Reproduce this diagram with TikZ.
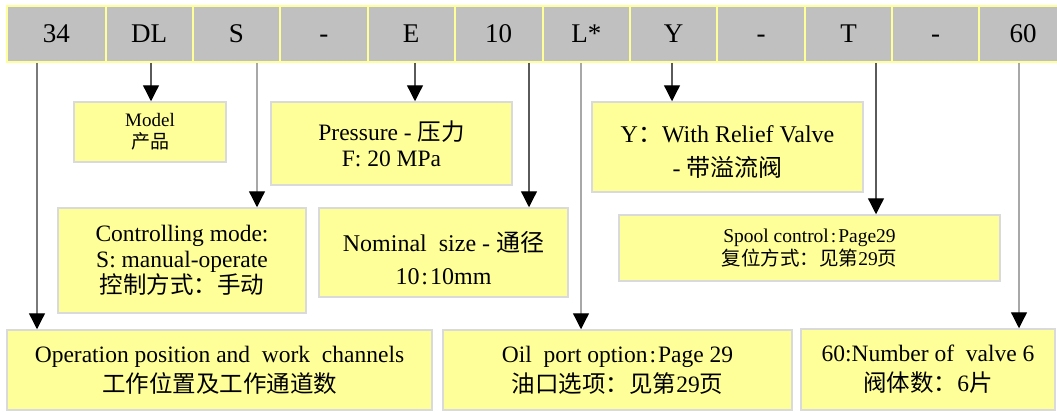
\documentclass[tikz,border=0pt]{standalone}
\usepackage{fontspec}
\setmainfont{Liberation Serif}
\newfontfamily\cjk{Noto Sans CJK SC}
\usetikzlibrary{arrows.meta}
\definecolor{barfill}{HTML}{C0C0C0}
\definecolor{baredge}{HTML}{FFFF99}
\definecolor{boxfill}{HTML}{FFFF99}
\definecolor{boxedge}{HTML}{DADADA}
\definecolor{linedark}{HTML}{5A5A5A}
\definecolor{linemid}{HTML}{7A7A7A}
\definecolor{linelight}{HTML}{A8A8A8}
\newcommand{\cc}{\kern2pt:\kern2pt}
\tikzset{
  cell/.style={fill=barfill, draw=baredge, line width=2pt, minimum height=56pt,
    inner sep=0pt, anchor=north west, text height=18pt, text depth=0pt,
    font=\fontsize{27}{30}\selectfont},
  infobox/.style={fill=boxfill, draw=boxedge, line width=1.5pt, inner sep=0pt,
    align=center, font=\fontsize{23.5}{26}\selectfont},
  conn/.style={line width=1.3pt, -{Triangle[length=16pt,width=16pt,color=black]}},
  darkconn/.style={conn, draw=linedark},
  midconn/.style={conn, draw=linemid},
  lightconn/.style={conn, draw=linelight}
}
\begin{document}
\begin{tikzpicture}[x=1pt,y=-1pt]
\useasboundingbox (0,0) rectangle (1057,412);
% code bar
\node[cell, minimum width=98.7pt] (c1) at (6,5) {34};
\node[cell, minimum width=86.9pt] (c2) at (104.7,5) {DL};
\node[cell, minimum width=87.4pt] (c3) at (191.6,5) {S};
\node[cell, minimum width=87.5pt] (c4) at (279,5) {-};
\node[cell, minimum width=87.2pt] (c5) at (366.5,5) {E};
\node[cell, minimum width=87.8pt] (c6) at (453.7,5) {10};
\node[cell, minimum width=87.5pt] (c7) at (541.5,5) {L*};
\node[cell, minimum width=87pt] (c8) at (629,5) {Y};
\node[cell, minimum width=88pt] (c9) at (716,5) {-};
\node[cell, minimum width=87pt] (c10) at (804,5) {T};
\node[cell, minimum width=87pt] (c11) at (891,5) {-};
\node[cell, minimum width=88pt] (c12) at (978,5) {60};
% boxes
\node[infobox, minimum width=152pt, minimum height=60pt, font=\fontsize{19}{22}\selectfont] (model) at (150,132) {Model\\{\cjk 产品}};
\node[infobox, minimum width=241pt, minimum height=83pt] (press) at (391.5,143.5) {Pressure - {\cjk 压力}\\F: 20 MPa};
\node[infobox, minimum width=271pt, minimum height=90pt, font=\fontsize{24}{34}\selectfont] (relief) at (727.5,147) {\rule{0pt}{26pt}Y{\cjk ：}With Relief Valve\\- {\cjk 带溢流阀}};
\node[infobox, minimum width=248pt, minimum height=105pt] (ctrl) at (182,260.5) {Controlling mode:\\S: manual-operate\\{\cjk 控制方式：手动}};
\node[infobox, minimum width=249pt, minimum height=89pt, font=\fontsize{24}{33}\selectfont] (nom) at (443.5,252.5) {\rule{0pt}{31pt}Nominal\ \ size - {\cjk 通径}\\10\cc10mm};
\node[infobox, minimum width=381pt, minimum height=66pt, font=\fontsize{19.5}{23}\selectfont] (spool) at (809.5,248) {Spool control\cc Page29\\{\cjk 复位方式：见第}29{\cjk 页}};
\node[infobox, minimum width=425pt, minimum height=80pt, font=\fontsize{23.5}{30}\selectfont] (oper) at (219.5,370) {Operation position and\ \ work\ \ channels\\{\cjk 工作位置及工作通道数}};
\node[infobox, minimum width=349pt, minimum height=80pt, font=\fontsize{23.5}{30}\selectfont] (oil) at (617.5,370) {Oil\ \ port option\cc Page 29\\{\cjk 油口选项：见第}29{\cjk 页}};
\node[infobox, minimum width=254pt, minimum height=81pt, font=\fontsize{23.5}{30}\selectfont] (num) at (928,369.5) {60:Number of\ \ valve 6\\{\cjk 阀体数：}6{\cjk 片}};
% connectors
\draw[midconn] (37,0 |- c1.south) -- (37,0 |- oper.north);
\draw[darkconn] (151,0 |- c2.south) -- (151,0 |- model.north);
\draw[lightconn] (257,0 |- c3.south) -- (257,0 |- ctrl.north);
\draw[darkconn] (415,0 |- c5.south) -- (415,0 |- press.north);
\draw[darkconn] (529,0 |- c6.south) -- (529,0 |- nom.north);
\draw[lightconn] (581,0 |- c7.south) -- (581,0 |- oil.north);
\draw[darkconn] (672,0 |- c8.south) -- (672,0 |- relief.north);
\draw[darkconn] (876,0 |- c10.south) -- (876,0 |- spool.north);
\draw[lightconn] (1019,0 |- c12.south) -- (1019,0 |- num.north);
\end{tikzpicture}
\end{document}
